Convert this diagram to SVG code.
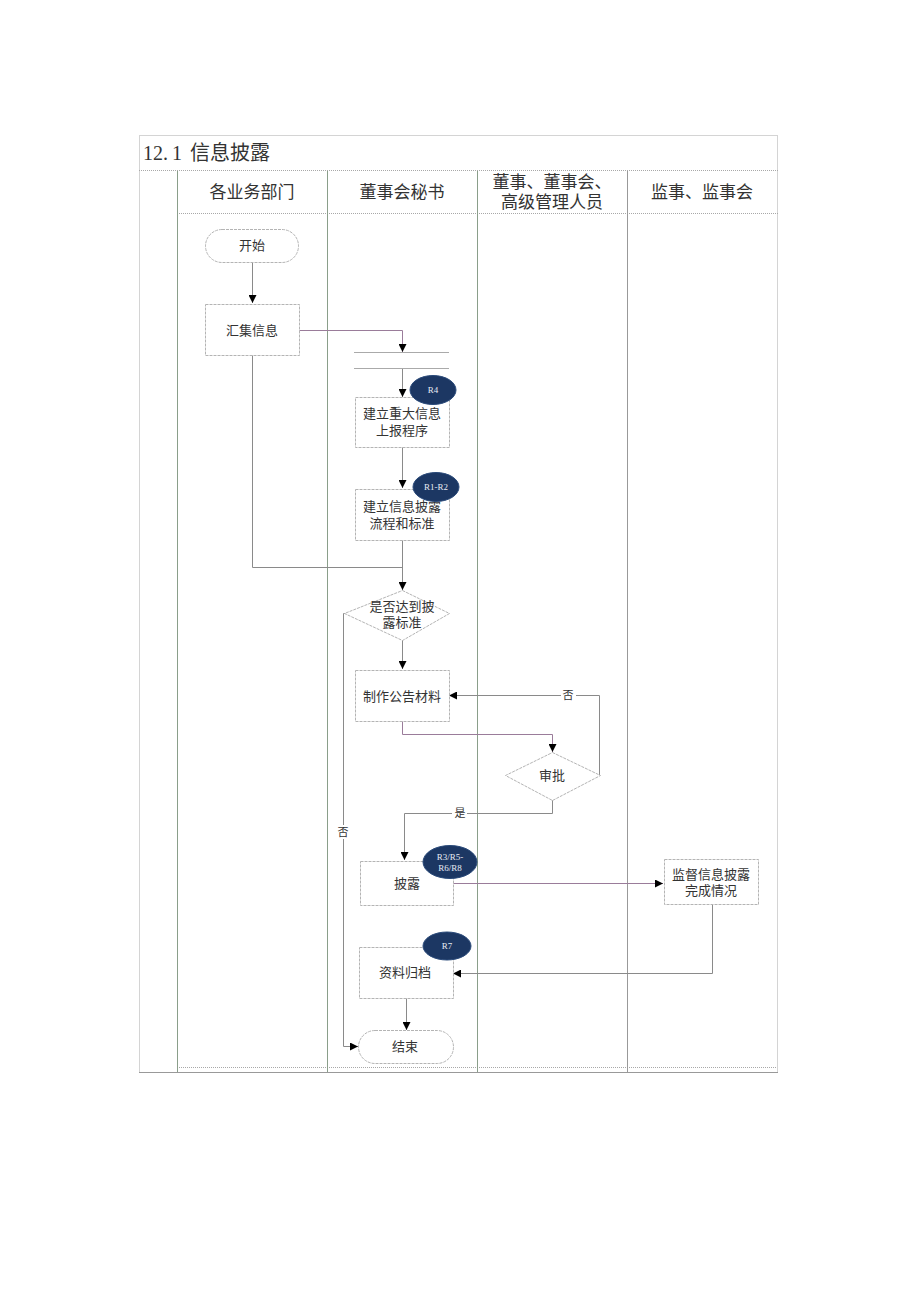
<svg xmlns="http://www.w3.org/2000/svg" width="920" height="1301" viewBox="0 0 920 1301">
<defs>
<style>
text{font-family:"Liberation Serif","Noto Sans CJK SC",serif;fill:#333;text-anchor:middle}
.hd{font-size:17px}
.nt{font-size:13px}
.rt{font-size:9px;fill:#e8ecf4}
.box{fill:#fff;stroke:#b4b4b4;stroke-width:1;stroke-dasharray:3 1}
.tag{fill:#1c3763;stroke:#2a4a7a;stroke-width:1}
.lane{stroke:#8a9e8a;stroke-width:1;fill:none}
.lane2{stroke:#999;stroke-width:1;fill:none}
.frame{stroke:#a8a8a8;stroke-width:1;fill:none;stroke-dasharray:1 1}
.c{fill:none;stroke:#8a8a8a;stroke-width:1}
.cp{fill:none;stroke:#9a7c9a;stroke-width:1}
</style>
<marker id="ah" viewBox="0 0 10 10" refX="10" refY="5" markerWidth="8" markerHeight="8" orient="auto" markerUnits="userSpaceOnUse">
<path d="M0,0 L10,5 L0,10 z" fill="#000"/>
</marker>
</defs>
<rect width="920" height="1301" fill="#fff"/>
<g id="table">
<rect x="139.5" y="135.5" width="638" height="937" class="frame"/>
<line x1="139" y1="170.5" x2="778" y2="170.5" class="frame"/>
<line x1="177" y1="213.5" x2="778" y2="213.5" class="frame"/>
<line x1="139" y1="1072.5" x2="778" y2="1072.5" stroke="#999" stroke-width="1"/>
<line x1="177" y1="1067.5" x2="777" y2="1067.5" class="frame" stroke="#ccc"/>
<line x1="177.5" y1="171" x2="177.5" y2="1072" class="lane"/>
<line x1="327.5" y1="171" x2="327.5" y2="1072" class="lane"/>
<line x1="477.5" y1="171" x2="477.5" y2="1072" class="lane"/>
<line x1="627.5" y1="171" x2="627.5" y2="1072" class="lane2"/>
<text x="143" y="160" style="font-size:20px;text-anchor:start">12.<tspan dx="4">1</tspan><tspan dx="8">信息披露</tspan></text>
<text x="252" y="198" class="hd">各业务部门</text>
<text x="402" y="198" class="hd">董事会秘书</text>
<text x="552" y="188" class="hd">董事、董事会、</text>
<text x="552" y="208" class="hd">高级管理人员</text>
<text x="702" y="198" class="hd">监事、监事会</text>
</g>
<g id="connectors">
<path d="M252.5,262 V303" class="c" marker-end="url(#ah)"/>
<path d="M299,330.5 H402.5 V352" class="cp" marker-end="url(#ah)"/>
<line x1="354" y1="352.5" x2="449" y2="352.5" stroke="#aaa"/>
<line x1="354" y1="368.5" x2="449" y2="368.5" stroke="#aaa"/>
<path d="M402.5,369 V397" class="c" marker-end="url(#ah)"/>
<path d="M402.5,447 V488" class="c" marker-end="url(#ah)"/>
<path d="M252.5,355 V567.5 H402.5" class="c"/>
<path d="M402.5,540 V590" class="c" marker-end="url(#ah)"/>
<path d="M402.5,640 V669" class="c" marker-end="url(#ah)"/>
<path d="M347,613.5 H343.5 V1046.5 H358" class="c" marker-end="url(#ah)"/>
<path d="M402.5,721 V734.5 H552.5 V752" class="cp" marker-end="url(#ah)"/>
<path d="M600,775 H599.5 V695.5 H449" class="c" marker-end="url(#ah)"/>
<path d="M552.5,800 V813.5 H404.5 V860" class="c" marker-end="url(#ah)"/>
<path d="M453,883.5 H663" class="cp" marker-end="url(#ah)"/>
<path d="M712.5,904 V973.5 H453" class="c" marker-end="url(#ah)"/>
<path d="M406.5,998 V1030" class="c" marker-end="url(#ah)"/>
<rect x="561" y="688" width="15" height="14" fill="#fff"/>
<text x="568" y="699" style="font-size:11px">否</text>
<rect x="452" y="806" width="15" height="14" fill="#fff"/>
<text x="460" y="817" style="font-size:11px">是</text>
<rect x="336" y="825" width="15" height="14" fill="#fff"/>
<text x="343" y="836" style="font-size:11px">否</text>
</g>
<g id="start">
<rect x="205.5" y="229.5" width="93" height="33" rx="16.5" class="box"/>
<text x="252" y="250" class="nt">开始</text>
</g>
<g id="collect">
<rect x="205.5" y="304.5" width="94" height="51" class="box"/>
<text x="252" y="335" class="nt">汇集信息</text>
</g>
<g id="report">
<rect x="355.5" y="397.5" width="94" height="50" class="box"/>
<text x="402" y="418" class="nt">建立重大信息</text>
<text x="402" y="435" class="nt">上报程序</text>
<ellipse cx="433" cy="390" rx="23" ry="14.5" class="tag"/>
<text x="433" y="393" class="rt">R4</text>
</g>
<g id="standard">
<rect x="355.5" y="489.5" width="94" height="51" class="box"/>
<text x="402" y="511" class="nt">建立信息披露</text>
<text x="402" y="528" class="nt">流程和标准</text>
<ellipse cx="436" cy="487" rx="23" ry="14.5" class="tag"/>
<text x="436" y="490" class="rt">R1-R2</text>
</g>
<g id="decide">
<polygon points="402.5,590.5 449.5,613.5 402.5,640.5 344.5,613.5" class="box"/>
<text x="402" y="611" class="nt">是否达到披</text>
<text x="402" y="627" class="nt">露标准</text>
</g>
<g id="prepare">
<rect x="355.5" y="670.5" width="94" height="51" class="box"/>
<text x="402" y="701" class="nt">制作公告材料</text>
</g>
<g id="approve">
<polygon points="552.5,752.5 600.5,775.5 552.5,800.5 505.5,775.5" class="box"/>
<text x="552" y="780" class="nt">审批</text>
</g>
<g id="disclose">
<rect x="360.5" y="861.5" width="93" height="44" class="box"/>
<text x="407" y="888" class="nt">披露</text>
<ellipse cx="450" cy="862" rx="27" ry="16.5" class="tag"/>
<text x="450" y="860" class="rt">R3/R5-</text>
<text x="450" y="871" class="rt">R6/R8</text>
</g>
<g id="supervise">
<rect x="664.5" y="859.5" width="94" height="45" class="box"/>
<text x="711" y="879" class="nt">监督信息披露</text>
<text x="711" y="895" class="nt">完成情况</text>
</g>
<g id="archive">
<rect x="359.5" y="947.5" width="94" height="51" class="box"/>
<text x="405" y="977" class="nt">资料归档</text>
<ellipse cx="447" cy="946" rx="24" ry="14" class="tag"/>
<text x="447" y="949" class="rt">R7</text>
</g>
<g id="end">
<rect x="358.5" y="1030.5" width="95" height="33" rx="16.5" class="box"/>
<text x="405" y="1051" class="nt">结束</text>
</g>
</svg>
